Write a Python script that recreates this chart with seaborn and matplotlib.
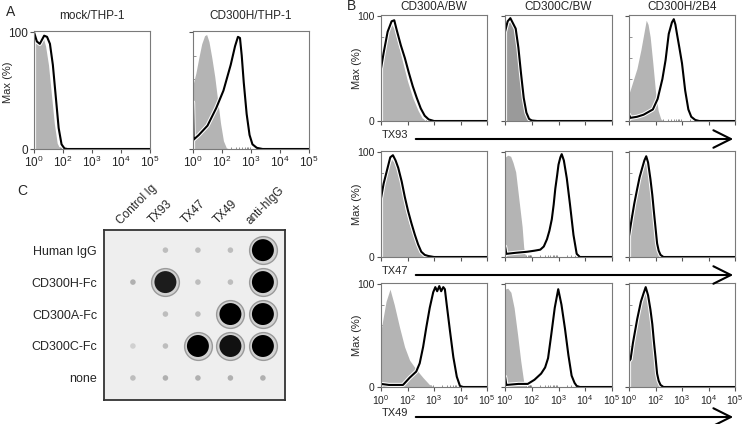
import numpy as np
import pandas as pd
import matplotlib
matplotlib.use('Agg')
import matplotlib.pyplot as plt
import matplotlib.patheffects as pe
from matplotlib.patches import FancyArrowPatch
import seaborn as sns

W, H = 745, 424

# histogram outlines as (axis position, % of max); axis position 0..4 = 10^0, 10^2, 10^3, 10^4, 10^5
MOCK_THP1_CTRL = [(0, 100), (0.1, 90), (0.2, 92), (0.3, 97), (0.4, 88), (0.5, 72), (0.6, 47),
                  (0.7, 22), (0.8, 5), (0.9, 0), (4, 0)]
MOCK_THP1_STAIN = [(0, 0), (0, 100), (0.1, 92), (0.2, 90), (0.35, 97), (0.45, 96), (0.55, 90),
                   (0.65, 72), (0.75, 45), (0.85, 18), (0.95, 4), (1.05, 0.5), (1.15, 0), (4, 0)]
CD300H_THP1_CTRL = [(0, 55), (0.1, 65), (0.2, 78), (0.3, 90), (0.4, 97), (0.47, 98), (0.55, 92),
                    (0.65, 78), (0.75, 62), (0.85, 42), (0.95, 22), (1.05, 7), (1.15, 1), (1.25, 0), (4, 0)]
CD300H_THP1_STAIN = [(0, 0), (0, 40), (0.02, 8), (0.2, 12), (0.5, 20), (0.8, 35), (1.05, 50), (1.3, 72),
                     (1.45, 88), (1.55, 96), (1.62, 95), (1.68, 80), (1.75, 57), (1.85, 30), (1.95, 12),
                     (2.05, 4), (2.2, 1), (2.4, 0), (4, 0)]

CD300A_TX93_CTRL = [(0, 48), (0.1, 62), (0.2, 78), (0.3, 88), (0.4, 92), (0.5, 88), (0.6, 78), (0.8, 58),
                    (1.0, 38), (1.2, 22), (1.4, 10), (1.55, 3), (1.7, 0), (4, 0)]
CD300A_TX93_STAIN = [(0, 0), (0, 50), (0.1, 65), (0.25, 85), (0.4, 95), (0.5, 96), (0.6, 86), (0.75, 72),
                     (0.9, 60), (1.05, 46), (1.2, 33), (1.35, 22), (1.5, 12), (1.65, 5), (1.8, 1.5), (2.0, 0), (4, 0)]
CD300C_TX93_CTRL = [(0, 85), (0.1, 93), (0.2, 95), (0.3, 92), (0.4, 88), (0.5, 68), (0.6, 42), (0.7, 20),
                    (0.8, 6), (0.9, 1), (0.95, 0), (4, 0)]
CD300C_TX93_STAIN = [(0, 0), (0, 85), (0.1, 95), (0.2, 98), (0.3, 93), (0.4, 88), (0.5, 70), (0.6, 45),
                     (0.7, 22), (0.8, 8), (0.9, 2), (1.0, 0.5), (1.2, 0), (4, 0)]
CD300H_TX93_CTRL = [(0, 26), (0.15, 38), (0.3, 50), (0.45, 68), (0.55, 82), (0.65, 96), (0.72, 92),
                    (0.8, 80), (0.9, 55), (1.0, 28), (1.1, 10), (1.2, 2), (1.3, 0), (4, 0)]
CD300H_TX93_STAIN = [(0, 0), (0, 6), (0.05, 3), (0.3, 4), (0.55, 6), (0.9, 11), (1.08, 21), (1.26, 40),
                     (1.38, 58), (1.5, 83), (1.62, 94), (1.69, 97), (1.75, 92), (1.81, 83), (1.9, 70),
                     (2.0, 55), (2.12, 29), (2.24, 11), (2.35, 4), (2.5, 1), (2.65, 0), (4, 0)]

CD300A_TX47_CTRL = [(0, 56), (0.1, 68), (0.2, 80), (0.3, 88), (0.4, 93), (0.5, 90), (0.65, 79), (0.8, 62),
                    (0.9, 47), (1.05, 33), (1.15, 25), (1.3, 15), (1.4, 9), (1.5, 5), (1.6, 2), (1.75, 0), (4, 0)]
CD300A_TX47_STAIN = [(0, 0), (0, 56), (0.1, 70), (0.25, 85), (0.35, 95), (0.45, 97), (0.55, 92), (0.65, 85),
                     (0.78, 72), (0.9, 57), (1.02, 44), (1.15, 32), (1.28, 21), (1.4, 12), (1.52, 5),
                     (1.65, 2), (1.78, 1), (2.0, 0), (4, 0)]
CD300C_TX47_CTRL = [(0, 95), (0.1, 97), (0.21, 96), (0.3, 90), (0.4, 81), (0.52, 55), (0.64, 29),
                    (0.7, 9), (0.77, 0), (4, 0)]
CD300C_TX47_STAIN = [(0, 0), (0, 10), (0.05, 3), (0.4, 4), (0.83, 5), (1.1, 6), (1.32, 7), (1.45, 10),
                     (1.57, 17), (1.66, 25), (1.75, 36), (1.82, 50), (1.88, 65), (1.95, 78), (2.0, 88),
                     (2.07, 95), (2.12, 98), (2.2, 92), (2.31, 75), (2.43, 50), (2.56, 21), (2.68, 3),
                     (2.8, 0), (4, 0)]
CD300H_TX47_CTRL = [(0, 20), (0.1, 35), (0.2, 50), (0.31, 64), (0.4, 74), (0.5, 83), (0.58, 90), (0.65, 94),
                    (0.72, 88), (0.81, 73), (0.88, 58), (0.94, 42), (1.0, 26), (1.06, 11), (1.12, 5),
                    (1.19, 2), (1.3, 0), (4, 0)]
CD300H_TX47_STAIN = [(0, 0), (0, 20), (0.1, 36), (0.2, 51), (0.31, 65), (0.4, 76), (0.5, 85), (0.58, 92),
                     (0.65, 96), (0.72, 90), (0.81, 74), (0.88, 59), (0.94, 43), (1.0, 28), (1.06, 13),
                     (1.12, 6), (1.19, 2), (1.3, 0), (4, 0)]

CD300A_TX49_CTRL = [(0, 55), (0.06, 64), (0.19, 83), (0.34, 95), (0.5, 80), (0.7, 58), (0.89, 39),
                    (1.08, 26), (1.33, 17), (1.59, 9), (1.84, 2), (2.0, 0), (4, 0)]
CD300A_TX49_STAIN = [(0, 0), (0, 3), (0.3, 2), (0.83, 2), (1.08, 9), (1.33, 15), (1.46, 23), (1.59, 39),
                     (1.71, 58), (1.84, 77), (1.97, 92), (2.05, 97), (2.12, 93), (2.2, 98), (2.27, 93),
                     (2.35, 97), (2.41, 95), (2.48, 80), (2.6, 55), (2.73, 29), (2.86, 10), (2.98, 1),
                     (3.1, 0), (4, 0)]
CD300C_TX49_CTRL = [(0, 95), (0.1, 96), (0.22, 92), (0.34, 77), (0.47, 51), (0.59, 25), (0.7, 5),
                    (0.8, 0), (4, 0)]
CD300C_TX49_STAIN = [(0, 0), (0, 10), (0.05, 2), (0.5, 3), (0.85, 3), (1.1, 7), (1.35, 13), (1.5, 19),
                     (1.61, 28), (1.73, 51), (1.86, 77), (1.99, 95), (2.11, 80), (2.24, 57), (2.37, 31),
                     (2.49, 11), (2.6, 4), (2.68, 1), (2.8, 0), (4, 0)]
CD300H_TX49_CTRL = [(0, 25), (0.06, 26), (0.15, 42), (0.31, 65), (0.45, 82), (0.55, 90), (0.63, 96),
                    (0.72, 88), (0.81, 74), (0.88, 60), (0.94, 43), (1.0, 28), (1.06, 12), (1.12, 5),
                    (1.19, 2), (1.3, 0), (4, 0)]
CD300H_TX49_STAIN = [(0, 0), (0, 25), (0.06, 27), (0.15, 43), (0.31, 66), (0.45, 83), (0.55, 91),
                     (0.63, 97), (0.72, 89), (0.81, 75), (0.88, 61), (0.94, 44), (1.0, 29), (1.06, 13),
                     (1.12, 6), (1.19, 2), (1.3, 0), (4, 0)]

TICK_LABELS = [r'$10^{0}$', r'$10^{2}$', r'$10^{3}$', r'$10^{4}$', r'$10^{5}$']
B_TITLES = ['CD300A/BW', 'CD300C/BW', 'CD300H/2B4']
B_ANTIBODIES = ['TX93', 'TX47', 'TX49']

# dot blot
ANTIGENS = ['Human IgG', 'CD300H-Fc', 'CD300A-Fc', 'CD300C-Fc', 'none']
ANTIBODIES = ['Control Ig', 'TX93', 'TX47', 'TX49', 'anti-hIgG']
SIGNAL = [
    [0.0, 0.15, 0.15, 0.15, 1.0],
    [0.2, 0.85, 0.15, 0.15, 1.0],
    [0.0, 0.15, 0.15, 1.0, 1.0],
    [0.05, 0.15, 1.0, 0.9, 1.0],
    [0.15, 0.2, 0.2, 0.2, 0.2],
]


def px_axes(fig, x0, y0, x1, y1):
    return fig.add_axes([x0 / W, 1 - y1 / H, (x1 - x0) / W, (y1 - y0) / H])


def fig_xy(x, y):
    return x / W, 1 - y / H


def draw_histogram(ax, ctrl, stain, xlabels=False, ylabels=False, fill='#b4b4b4', labelsize=7.5):
    c = pd.DataFrame(ctrl, columns=['u', 'pct'])
    s = pd.DataFrame(stain, columns=['u', 'pct'])
    ax.fill_between(c['u'], c['pct'], color=fill, lw=0)
    sns.lineplot(data=s, x='u', y='pct', ax=ax, color='black', lw=1.5, sort=False, estimator=None,
                 path_effects=[pe.Stroke(linewidth=3.0, foreground='white'), pe.Normal()])
    ax.set_xlim(0, 4)
    ax.set_ylim(0, 101)
    ax.set_xlabel('')
    ax.set_ylabel('')
    for sp in ax.spines.values():
        sp.set_color('#7a7a7a')
        sp.set_linewidth(0.8)
        sp.set_visible(True)
    minor = [np.log10(m) / 2 for m in range(2, 10)] + [0.5 + np.log10(m) / 2 for m in range(2, 10)]
    minor += [k + np.log10(m) for k in range(1, 4) for m in range(2, 10)]
    ax.set_xticks(range(5))
    ax.set_xticks(minor, minor=True)
    ax.set_yticks([0, 100])
    ax.set_yticks([20, 40, 60, 80], minor=True)
    ax.set_xticklabels(TICK_LABELS if xlabels else [])
    ax.set_yticklabels(['0', '100'] if ylabels else [])
    ax.tick_params(which='major', direction='out', length=3, width=0.8, color='#555555',
                   labelsize=labelsize, pad=1.5)
    ax.tick_params(which='minor', direction='in', length=1.8, width=0.5, color='#666666')
    ax.tick_params(axis='both', which='both', bottom=True, left=True)


sns.set_style('white')
plt.rcParams['font.family'] = ['Liberation Sans', 'DejaVu Sans']
plt.rcParams['mathtext.default'] = 'regular'

fig = plt.figure(figsize=(W / 100, H / 100), dpi=100)

# panel A
ax = px_axes(fig, 34, 31, 150, 149)
draw_histogram(ax, MOCK_THP1_CTRL, MOCK_THP1_STAIN, xlabels=True, ylabels=True, labelsize=8.5)
ax = px_axes(fig, 193, 31, 309, 149)
draw_histogram(ax, CD300H_THP1_CTRL, CD300H_THP1_STAIN, xlabels=True, labelsize=8.5)
fig.text(*fig_xy(92, 16), 'mock/THP-1', ha='center', va='center', fontsize=8.5)
fig.text(*fig_xy(251, 16), 'CD300H/THP-1', ha='center', va='center', fontsize=8.5)
fig.text(*fig_xy(8, 82), 'Max (%)', rotation=90, ha='center', va='center', fontsize=8)

# panel B
b_curves = [
    [(CD300A_TX93_CTRL, CD300A_TX93_STAIN), (CD300C_TX93_CTRL, CD300C_TX93_STAIN), (CD300H_TX93_CTRL, CD300H_TX93_STAIN)],
    [(CD300A_TX47_CTRL, CD300A_TX47_STAIN), (CD300C_TX47_CTRL, CD300C_TX47_STAIN), (CD300H_TX47_CTRL, CD300H_TX47_STAIN)],
    [(CD300A_TX49_CTRL, CD300A_TX49_STAIN), (CD300C_TX49_CTRL, CD300C_TX49_STAIN), (CD300H_TX49_CTRL, CD300H_TX49_STAIN)],
]
cols = [(381, 487), (505, 612), (629, 735)]
rows = [(15, 121), (151, 257), (283, 387)]
arrow_y = [139, 275, 417]
for r, (y0, y1) in enumerate(rows):
    for c, (x0, x1) in enumerate(cols):
        ax = px_axes(fig, x0, y0, x1, y1)
        ctrl, stain = b_curves[r][c]
        fill = '#9a9a9a' if (r, c) == (0, 1) else '#b4b4b4'
        draw_histogram(ax, ctrl, stain, xlabels=(r == 2), ylabels=(c == 0), fill=fill)
        if r == 0:
            fig.text(*fig_xy((x0 + x1) / 2, 7), B_TITLES[c], ha='center', va='center', fontsize=8.5)
    fig.text(*fig_xy(357, (y0 + y1) / 2), 'Max (%)', rotation=90, ha='center', va='center', fontsize=8)
    fig.text(*fig_xy(382, arrow_y[r] - 1), B_ANTIBODIES[r], ha='left', va='baseline', fontsize=8)
    arrow = FancyArrowPatch(fig_xy(413, arrow_y[r]), fig_xy(736, arrow_y[r]), transform=fig.transFigure,
                            arrowstyle='->,head_length=0.9,head_width=0.45', mutation_scale=14,
                            lw=1.5, color='black')
    fig.add_artist(arrow)

# panel C
blot = pd.DataFrame([(ci, ri, SIGNAL[ri][ci]) for ri in range(len(ANTIGENS)) for ci in range(len(ANTIBODIES))],
                    columns=['col', 'row', 'signal'])
axc = px_axes(fig, 104, 230, 285, 400)
axc.set_facecolor('#eeeeee')
strong = blot[blot['signal'] >= 0.5]
faint = blot[(blot['signal'] > 0) & (blot['signal'] < 0.5)]
sns.scatterplot(data=faint, x='col', y='row', hue='signal', palette='Greys', hue_norm=(-0.3, 0.9),
                s=16, linewidth=0, legend=False, ax=axc)
sns.scatterplot(data=strong, x='col', y='row', color='#d2d2d2', edgecolor='#9a9a9a',
                s=400, linewidth=1.0, legend=False, ax=axc)
sns.scatterplot(data=strong, x='col', y='row', hue='signal', palette='Greys', hue_norm=(-0.6, 1.0),
                s=250, linewidth=0, legend=False, ax=axc)
axc.set_xlim(-0.89, 4.68)
axc.set_ylim(4.69, -0.63)
axc.set_xlabel('')
axc.set_ylabel('')
axc.set_xticks([])
axc.set_yticks(range(len(ANTIGENS)))
axc.set_yticklabels(ANTIGENS, fontsize=9)
axc.tick_params(axis='y', length=0, pad=5)
for sp in axc.spines.values():
    sp.set_color('#333333')
    sp.set_linewidth(1.3)
for ci, name in enumerate(ANTIBODIES):
    axc.text(ci - 0.32, 1.02, name, transform=axc.get_xaxis_transform(), rotation=45,
             rotation_mode='anchor', ha='left', va='bottom', fontsize=8.5)

fig.text(*fig_xy(11, 12), 'A', ha='center', va='center', fontsize=10)
fig.text(*fig_xy(352, 6), 'B', ha='center', va='center', fontsize=10)
fig.text(*fig_xy(22, 191), 'C', ha='center', va='center', fontsize=10)

fig.savefig('out.png', dpi=100)
